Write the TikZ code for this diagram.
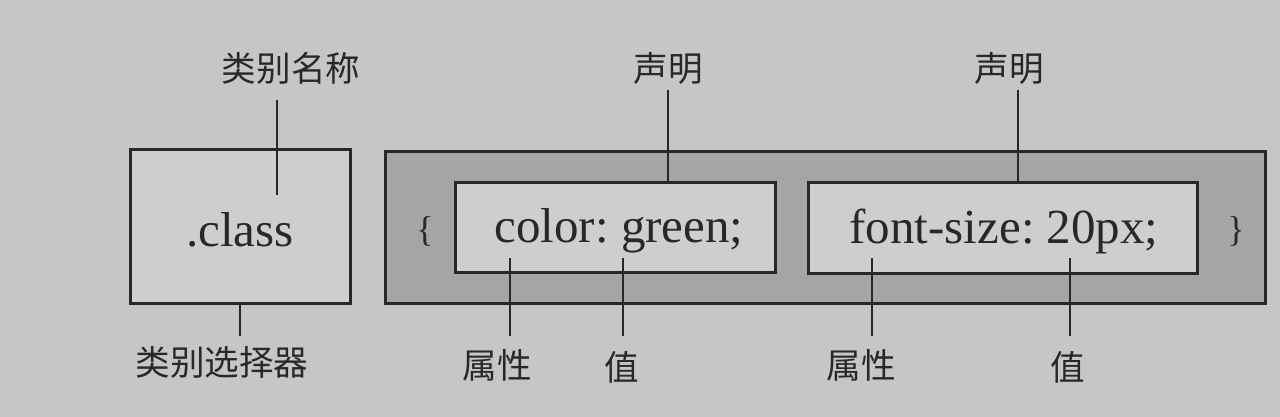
\documentclass[tikz,border=0pt]{standalone}
\usepackage{fontspec}
\setmainfont{Liberation Serif}
\newfontfamily\cjk{Noto Sans CJK SC}
\frenchspacing
\definecolor{pagebg}{RGB}{198,198,196}
\definecolor{boxbg}{RGB}{206,206,204}
\definecolor{outerbg}{RGB}{165,165,163}
\definecolor{ink}{RGB}{40,40,40}
\begin{document}
\begin{tikzpicture}[x=0.5pt,y=-0.5pt,
  frame/.style={draw=ink,line width=1.5pt,inner sep=0pt},
  code/.style={font=\fontsize{24.5}{28}\selectfont,text=ink},
  brace/.style={font=\fontsize{18}{20}\selectfont,text=ink},
  lbl/.style={font=\cjk\fontsize{17.3}{19}\selectfont,text=ink,inner sep=0pt},
  lead/.style={draw=ink,line width=1.3pt}]
\fill[pagebg] (0,0) rectangle (1280,417);
\useasboundingbox (0,0) rectangle (1280,417);
% left box
\node[frame,fill=boxbg,minimum width=110pt,minimum height=76.5pt] (cls) at (240,226.5) {};
\node[code] (clstxt) at (240,230) {.class};
% outer declaration block
\node[frame,fill=outerbg,minimum width=440pt,minimum height=75.5pt] (outer) at (825,227.5) {};
\node[frame,fill=boxbg,minimum width=160pt,minimum height=45pt] (d1) at (615,227) {};
\node[frame,fill=boxbg,minimum width=194.5pt,minimum height=45.5pt] (d2) at (1002.5,227.5) {};
\node[brace] (lb) at (425,231) {\{};
\node[brace] (rb) at (1236,231) {\}};
\node[code] (t1) at (619,231) {color: green;};
\node[code] (t2) at (1004,231) {font-size: 20px;};
% labels
\node[lbl] (n1) at (291,68) {类别名称};
\node[lbl] (n2) at (222,362) {类别选择器};
\node[lbl] (s1) at (668,68) {声明};
\node[lbl] (s2) at (1009,68) {声明};
\node[lbl] (p1) at (497,365) {属性};
\node[lbl] (v1) at (622,367) {值};
\node[lbl] (p2) at (861,365) {属性};
\node[lbl] (v2) at (1068,367) {值};
% connector ends
\coordinate (a1) at (277,100); \coordinate (a2) at (277,195);
\coordinate (b1) at (240,303); \coordinate (b2) at (240,336);
\coordinate (c1) at (668,90);  \coordinate (c2) at (668,182);
\coordinate (e1) at (1018,90); \coordinate (e2) at (1018,182);
\coordinate (f1) at (510,258); \coordinate (f2) at (510,336);
\coordinate (g1) at (623,258); \coordinate (g2) at (623,336);
\coordinate (h1) at (872,258); \coordinate (h2) at (872,336);
\coordinate (k1) at (1070,258); \coordinate (k2) at (1070,336);
\draw[lead] (a1) -- (a2);
\draw[lead] (b1) -- (b2);
\draw[lead] (c1) -- (c2);
\draw[lead] (e1) -- (e2);
\draw[lead] (f1) -- (f2);
\draw[lead] (g1) -- (g2);
\draw[lead] (h1) -- (h2);
\draw[lead] (k1) -- (k2);
\end{tikzpicture}
\end{document}
